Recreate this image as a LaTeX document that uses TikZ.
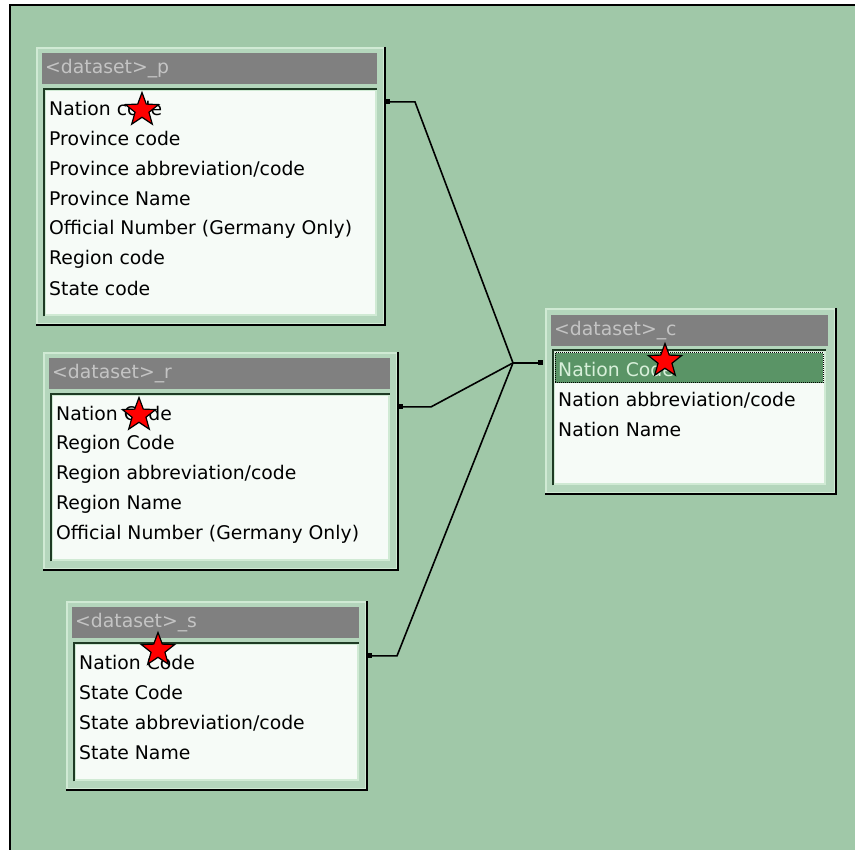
\documentclass[tikz,border=0pt]{standalone}
\usepackage{fontspec}
\setmainfont{DejaVu Sans}
\usetikzlibrary{positioning,calc,shapes.geometric,arrows.meta}

\definecolor{desk}{HTML}{A0C8A8}
\definecolor{framefill}{HTML}{B4D6BC}
\definecolor{framelite}{HTML}{D0EAD4}
\definecolor{headgray}{HTML}{808080}
\definecolor{headtext}{HTML}{C4C4C4}
\definecolor{paper}{HTML}{F6FBF7}
\definecolor{bodyedge}{HTML}{1E3A24}
\definecolor{pickgreen}{HTML}{5A9466}
\definecolor{picktext}{HTML}{D8F0DA}

\begin{document}
\begin{tikzpicture}[
  x=1pt, y=-1pt,
  font=\fontsize{18.8pt}{22pt}\selectfont,
  %% --- table styles ---
  frame/.style={
    draw=framelite, fill=framefill, line width=2pt,
    anchor=north west, inner sep=0pt},
  shadow/.style={draw=black, line width=2.5pt},
  header/.style={
    fill=headgray, text=headtext, anchor=north west, align=left,
    inner xsep=3pt, inner ysep=0pt, minimum height=31pt},
  body/.style={
    draw=framelite, fill=paper, line width=2pt, inner sep=0pt},
  bodyline/.style={draw=bodyedge, line width=2pt},
  row/.style={anchor=west, inner sep=0pt},
  pick/.style={
    fill=pickgreen, draw=black, densely dotted, line width=1pt,
    anchor=north west, inner sep=0pt},
  link/.style={{Square[length=5pt,width=5pt]}-, line width=1.6pt},
  redstar/.style={
    star, star points=5, star point ratio=2.4, fill=red, draw=black,
    line width=1.2pt, minimum size=35pt, inner sep=0pt}
]
  \useasboundingbox (0,0) rectangle (855,850);

  %% --- desk background ---
  \fill[white] (0,0) rectangle (855,850);
  \fill[desk] (10,5) rectangle (855,850);
  \draw[line width=2.5pt] (10,850) -- (10,5) -- (855,5);

  %% --- table <dataset>_p ---
  \node[frame, minimum width=347pt, minimum height=276pt] (pframe) at (36,47) {};
  \node[header, text width=329pt] (phead) at ([shift={(6,6)}]pframe.north west) {<dataset>\_p};
  \node[body, minimum width=331pt, minimum height=225pt, below right=5pt and 2pt of phead.south west] (pbody) {};
  \draw[bodyline] (pbody.south west) -- (pbody.north west) -- (pbody.north east);
  \draw[shadow] (pframe.north east) -- (pframe.south east) -- (pframe.south west);
  \foreach \t [count=\i from 0] in {Nation code, Province code, Province abbreviation/code,
      Province Name, {Official Number (Germany Only)}, Region code, State code}
    \node[row] (p-\i) at ([shift={(5,19.5+30*\i)}]pbody.north west) {\t};

  %% --- table <dataset>_r ---
  \node[frame, minimum width=353pt, minimum height=216pt] (rframe) at (43,352) {};
  \node[header, text width=335pt] (rhead) at ([shift={(6,6)}]rframe.north west) {<dataset>\_r};
  \node[body, minimum width=337pt, minimum height=165pt, below right=5pt and 2pt of rhead.south west] (rbody) {};
  \draw[bodyline] (rbody.south west) -- (rbody.north west) -- (rbody.north east);
  \draw[shadow] (rframe.north east) -- (rframe.south east) -- (rframe.south west);
  \foreach \t [count=\i from 0] in {Nation Code, Region Code, Region abbreviation/code,
      Region Name, {Official Number (Germany Only)}}
    \node[row] (r-\i) at ([shift={(5,19.5+30*\i)}]rbody.north west) {\t};

  %% --- table <dataset>_s ---
  \node[frame, minimum width=299pt, minimum height=187pt] (sframe) at (66,601) {};
  \node[header, text width=281pt] (shead) at ([shift={(6,6)}]sframe.north west) {<dataset>\_s};
  \node[body, minimum width=283pt, minimum height=136pt, below right=5pt and 2pt of shead.south west] (sbody) {};
  \draw[bodyline] (sbody.south west) -- (sbody.north west) -- (sbody.north east);
  \draw[shadow] (sframe.north east) -- (sframe.south east) -- (sframe.south west);
  \foreach \t [count=\i from 0] in {Nation Code, State Code, State abbreviation/code, State Name}
    \node[row] (s-\i) at ([shift={(5,19.5+30*\i)}]sbody.north west) {\t};

  %% --- table <dataset>_c ---
  \node[frame, minimum width=289pt, minimum height=184pt] (cframe) at (545,308) {};
  \node[header, text width=271pt] (chead) at ([shift={(6,7)}]cframe.north west) {<dataset>\_c};
  \node[body, minimum width=271pt, minimum height=133pt, below right=4pt and 2pt of chead.south west] (cbody) {};
  \draw[bodyline] (cbody.south west) -- (cbody.north west) -- (cbody.north east);
  \draw[shadow] (cframe.north east) -- (cframe.south east) -- (cframe.south west);
  \node[pick, minimum width=268pt, minimum height=30pt] (cpick) at ([shift={(1.5,2)}]cbody.north west) {};
  \node[row, text=picktext] (c-0) at ([shift={(5,19.5)}]cbody.north west) {Nation Code};
  \foreach \t [count=\i from 1] in {Nation abbreviation/code, Nation Name}
    \node[row] (c-\i) at ([shift={(5,19.5+30*\i)}]cbody.north west) {\t};

  %% --- links into <dataset>_c ---
  \coordinate (hub) at ([xshift=-32pt,yshift=7pt]c-0 -| cframe.west);
  \draw[link] ([yshift=7pt]p-0 -| pframe.east) -- ++(30,0) -- (hub);
  \draw[link] ([yshift=7pt]r-0 -| rframe.east) -- ++(33,0) -- (hub);
  \draw[link] ([yshift=7pt]s-0 -| sframe.east) -- ++(30,0) -- (hub);
  \draw[link] ([xshift=-2pt,yshift=7pt]c-0 -| cframe.west) -- (hub);

  %% --- red stars on the key fields ---
  \node[redstar] (star-p) at (142,110) {};
  \node[redstar] (star-r) at (139,415) {};
  \node[redstar] (star-s) at (158,650) {};
  \node[redstar] (star-c) at (665,361) {};

\end{tikzpicture}
\end{document}
